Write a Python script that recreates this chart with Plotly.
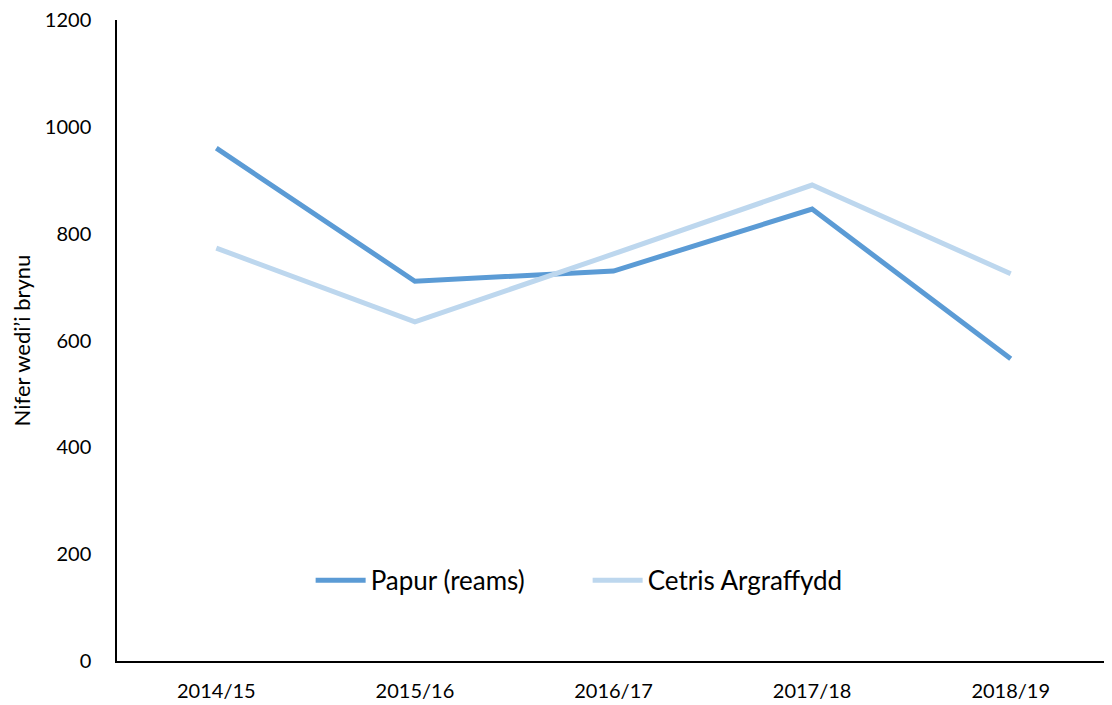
import plotly.graph_objects as go

categories = ["2014/15", "2015/16", "2016/17", "2017/18", "2018/19"]
papur = [960, 711, 730, 846, 566]
cetris = [773, 635, 762, 891, 725]
y_ticks = [0, 200, 400, 600, 800, 1000, 1200]

FONT = "Lato, Carlito, Calibri, sans-serif"

fig = go.Figure()
fig.add_trace(go.Scatter(x=categories, y=papur, mode="lines", name="Papur (reams)",
                         line=dict(color="#5B9BD5", width=5)))
fig.add_trace(go.Scatter(x=categories, y=cetris, mode="lines", name="Cetris Argraffydd",
                         line=dict(color="#BDD7EE", width=5)))

# page body has an 8px default margin, so size/margins compensate for it
fig.update_layout(
    width=1104, height=697,
    margin=dict(l=109, r=2, t=12, b=44, autoexpand=False),
    plot_bgcolor="white", paper_bgcolor="white",
    font=dict(family=FONT, color="black"),
    showlegend=True,
    legend=dict(orientation="h", x=0.195, xanchor="left", y=0.126, yanchor="middle",
                font=dict(size=26, family=FONT), bgcolor="rgba(0,0,0,0)",
                itemwidth=50, entrywidth=212, tracegroupgap=0),
)
fig.update_xaxes(type="category", range=[-0.5, 4.5], showline=True, linecolor="black",
                 linewidth=1.5, showgrid=False, ticks="", tickfont=dict(size=20, family=FONT),
                 ticklabelstandoff=11, zeroline=False, automargin=False,
                 ticklabeloverflow="allow")
fig.update_yaxes(range=[0, 1200], tickvals=y_ticks, showline=True, linecolor="black",
                 linewidth=1.5, showgrid=False, ticks="", tickfont=dict(size=20, family=FONT),
                 ticklabelstandoff=20, zeroline=False, automargin=False,
                 ticklabeloverflow="allow",
                 title=dict(text="Nifer wedi’i brynu", font=dict(size=22, family=FONT), standoff=14))

fig.write_html("out.html")
